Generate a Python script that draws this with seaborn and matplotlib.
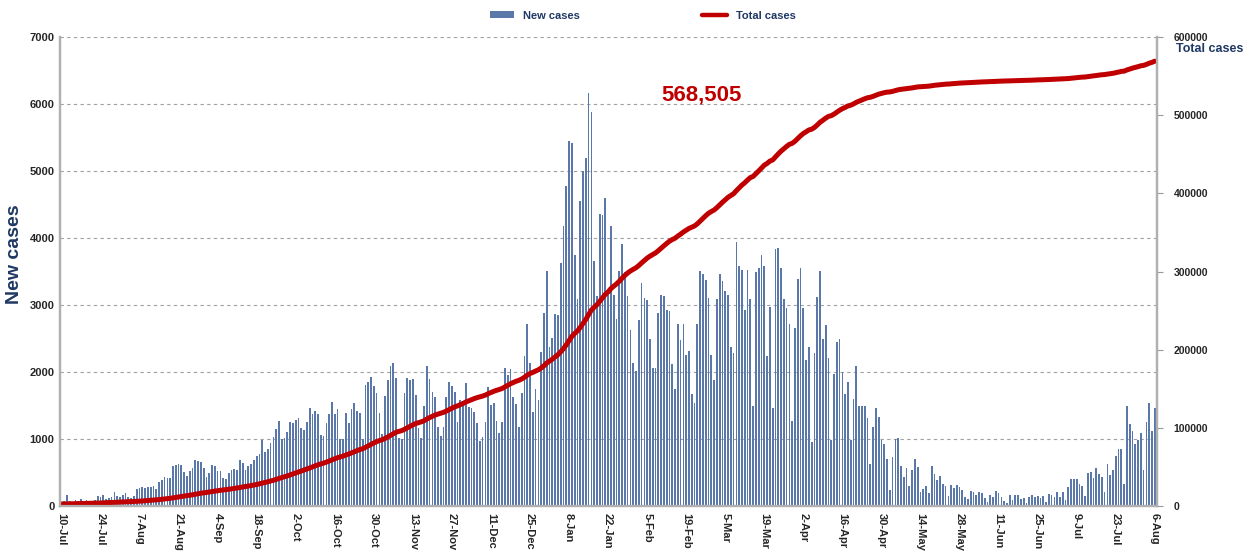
import matplotlib
matplotlib.use("Agg")
import matplotlib.pyplot as plt
from matplotlib.patches import Patch
from matplotlib.lines import Line2D
import seaborn as sns
import numpy as np
import pandas as pd

# daily new cases, one list per month (10 Jul 2020 .. 6 Aug 2021)
new_jul20 = [40, 70, 160, 80, 60, 90, 70, 100, 80, 90, 70, 60, 90, 150, 140, 160, 110, 120, 130, 210, 150, 140]
new_aug20 = [160, 200, 140, 120, 150, 260, 270, 280, 270, 290, 280, 300, 260, 360, 390, 440, 415, 415, 590, 605,
             630, 615, 515, 450, 530, 565, 690, 675, 655, 565, 430]
new_sep20 = [490, 605, 590, 525, 525, 415, 400, 490, 540, 550, 540, 680, 640, 540, 600, 625, 680, 750, 780, 990,
             810, 850, 940, 1030, 1150, 1275, 1000, 1010, 1100, 1250]
new_oct20 = [1245, 1285, 1310, 1170, 1135, 1260, 1460, 1370, 1420, 1375, 1060, 1045, 1235, 1370, 1550, 1370, 1445,
             1000, 1000, 1395, 1235, 1445, 1535, 1420, 1395, 1000, 1800, 1850, 1925, 1795, 1685]
new_nov20 = [1385, 1075, 1645, 1885, 2085, 2130, 1910, 1010, 1000, 1685, 1910, 1875, 1895, 1650, 1160, 1010, 1500,
             2085, 1895, 1700, 1620, 1185, 1045, 1185, 1625, 1850, 1785, 1695, 1260, 1575]
new_dec20 = [1560, 1835, 1485, 1470, 1410, 1235, 975, 1035, 1260, 1775, 1510, 1535, 1275, 1085, 1260, 2060, 1960,
             2050, 1625, 1525, 1185, 1685, 2240, 2715, 2130, 1400, 1750, 1585, 2295, 2880, 3515]
new_jan21 = [2380, 2515, 2870, 2855, 3630, 4175, 4775, 5445, 5420, 3740, 3095, 4560, 5000, 5195, 6170, 5880, 3650,
             3140, 4365, 4340, 4600, 3155, 4175, 3155, 2790, 3510, 3910, 3500, 3130, 2630, 2140]
new_feb21 = [2020, 2770, 3330, 3105, 3080, 2490, 2060, 2060, 2880, 3155, 3130, 2930, 2905, 2120, 1745, 2720, 2480,
             2720, 2255, 2320, 1675, 1535, 2720, 3515, 3470, 3370, 3105, 2255]
new_mar21 = [1885, 3095, 3465, 3365, 3205, 3155, 2370, 2280, 3940, 3585, 3525, 2930, 3520, 3090, 1495, 3490, 3550,
             3750, 3585, 2245, 2970, 1470, 3840, 3850, 3560, 3095, 2955, 2720, 1270, 2655, 3390]
new_apr21 = [3560, 2955, 2180, 2380, 950, 2290, 3115, 3505, 2495, 2695, 2205, 985, 1975, 2455, 2495, 2000, 1675,
             1845, 985, 1595, 2085, 1500, 1495, 1500, 1310, 620, 1175, 1470, 1325, 990]
new_may21 = [920, 700, 240, 735, 1000, 1010, 600, 430, 565, 300, 540, 700, 575, 205, 255, 305, 190, 600, 480, 390,
             450, 330, 300, 150, 315, 265, 315, 290, 240, 140, 100]
new_jun21 = [230, 215, 165, 215, 190, 125, 65, 165, 140, 230, 200, 140, 80, 40, 165, 90, 165, 165, 100, 115, 40,
             130, 160, 140, 155, 115, 150, 65, 180, 165]
new_jul21 = [140, 205, 130, 205, 90, 290, 400, 400, 400, 325, 305, 150, 490, 505, 415, 565, 475, 440, 205, 625,
             465, 540, 740, 850, 850, 330, 1500, 1225, 1115, 930, 980]
new_aug21 = [1090, 540, 1250, 1540, 1115, 1465]

total_before = 2500
total_label = "568,505"

new_cases = np.array(new_jul20 + new_aug20 + new_sep20 + new_oct20 + new_nov20 + new_dec20 + new_jan21
                     + new_feb21 + new_mar21 + new_apr21 + new_may21 + new_jun21 + new_jul21 + new_aug21)
dates = pd.date_range("2020-07-10", periods=len(new_cases), freq="D")
df = pd.DataFrame({"day": np.arange(len(new_cases)), "new": new_cases,
                   "total": total_before + np.cumsum(new_cases)})
tick_days = df["day"][::14]
tick_labels = [f"{d.day}-{d.strftime('%b')}" for d in dates[::14]]

sns.set_style("white")
plt.rcParams["font.family"] = ["Liberation Sans", "DejaVu Sans"]

navy = "#1f3864"
fig = plt.figure(figsize=(12.48, 5.56), dpi=100)
ax = fig.add_axes([0.0481, 0.0899, 0.879, 0.8435])

sns.barplot(data=df, x="day", y="new", native_scale=True, color="#5a78aa", width=0.62,
            saturation=1, linewidth=0, ax=ax)
ax.set_ylim(0, 7000)
ax.set_xlim(-0.5, len(new_cases) - 0.2)
ax.set_yticks(range(0, 7001, 1000))
ax.yaxis.grid(True, linestyle=(0, (3, 3)), color="#a0a0a0", linewidth=0.8)
ax.set_axisbelow(True)
ax.set_xticks(tick_days)
ax.set_xticklabels(tick_labels, rotation=-90, fontsize=8, fontweight="bold")
ax.set_xticks(df["day"], minor=True)
ax.tick_params(axis="x", which="both", length=3, color="#9a9a9a", pad=2)
ax.tick_params(axis="y", labelsize=8, length=0, pad=4)
for lab in ax.get_yticklabels():
    lab.set_fontweight("bold")
ax.set_xlabel("")
ax.set_ylabel("")
fig.text(0.012, 0.543, "New cases", rotation=90, fontsize=14, fontweight="bold", color=navy,
         ha="center", va="center")

ax2 = ax.twinx()
sns.lineplot(data=df, x="day", y="total", color="#c00000", linewidth=3.6, ax=ax2)
ax2.set_ylim(0, 600000)
ax2.set_yticks(range(0, 600001, 100000))
ax2.tick_params(axis="y", labelsize=7.5, length=4, color="#9a9a9a", pad=8)
for lab in ax2.get_yticklabels():
    lab.set_fontweight("bold")
ax2.set_ylabel("")
ax2.set_xlim(ax.get_xlim())

for a in (ax, ax2):
    a.spines["top"].set_visible(False)
    for s in ("left", "right", "bottom"):
        a.spines[s].set_color("#b0b0b0")
        a.spines[s].set_linewidth(1.6)

ax.text(215, 6130, total_label, color="#c00000", fontsize=16, fontweight="bold", va="center", ha="left")
fig.text(0.942, 0.912, "Total cases", color=navy, fontsize=9, fontweight="bold", ha="left", va="center")

handles = [Patch(facecolor="#5a78aa", edgecolor="none"),
           Line2D([0], [0], color="#c00000", linewidth=3.2)]
fig.legend(handles, ["New cases", "Total cases"], loc="center", bbox_to_anchor=(0.515, 0.972), ncol=2,
           frameon=False, columnspacing=11, handlelength=2.2, handleheight=0.5,
           prop={"size": 8, "weight": "bold"}, labelcolor=navy)

fig.savefig("out.png", dpi=100)
